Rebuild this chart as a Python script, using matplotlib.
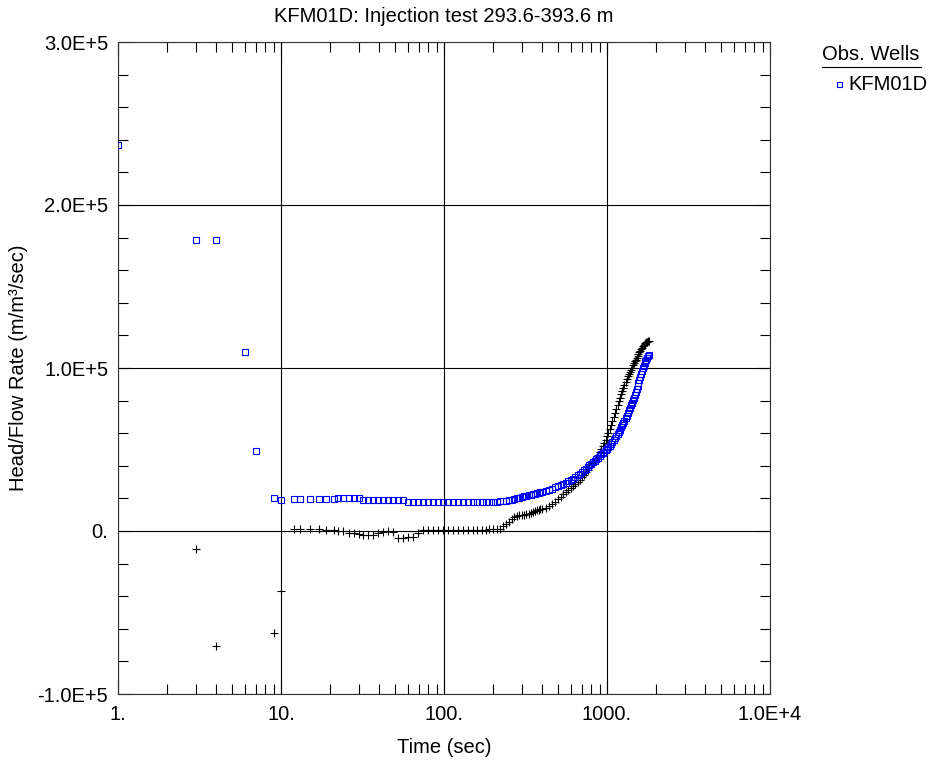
import matplotlib
matplotlib.use("Agg")
import matplotlib.pyplot as plt
from matplotlib.ticker import FixedLocator, FixedFormatter, LogLocator, NullFormatter
from matplotlib.lines import Line2D

plt.rcParams['font.family'] = ['Liberation Sans', 'DejaVu Sans']
FS = 14.5

# ---- data -------------------------------------------------------------
# Observation well KFM01D (blue squares)
t_obs = [1, 3, 4, 6, 7, 9, 10,
         12, 13, 15, 17, 19, 21, 22.5, 24, 26, 28, 30, 32, 34.3, 36.8, 39.5,
         42.4, 45.5, 48.9, 52.4, 56.3, 60.4, 64.8, 69.5, 74.6, 80, 86, 92, 99,
         106, 114, 122, 131, 141,
         150, 160, 170, 180, 190, 200, 210, 220, 230, 240, 250, 260, 270, 280,
         290, 300, 310, 320, 330, 340, 350, 360, 370, 380, 390, 400,
         420, 440, 460, 480, 500, 520, 540, 560, 580, 600, 620, 640, 660, 680,
         700, 720, 740, 760, 780, 800, 820, 840, 860, 880, 900, 920, 940, 960,
         980, 1000, 1020, 1040, 1060, 1080, 1100, 1120, 1140, 1160, 1180, 1200,
         1220, 1240, 1260, 1280, 1300, 1320, 1340, 1360, 1380, 1400, 1420, 1440,
         1460, 1480, 1500, 1520, 1540, 1560, 1580, 1600, 1620, 1640, 1660, 1680,
         1700, 1720, 1740, 1760, 1780, 1800]
h_obs = [237000, 178500, 178500, 110000, 49000, 20200, 19000,
         19600, 19600, 19600, 19600, 19600, 19600, 20400, 20400, 20400, 20400,
         20400, 19000, 19000, 19000, 19000, 19000, 19000, 19000, 19000, 19000,
         17800, 17800, 17800, 17800, 17800, 17800, 17800, 17800, 17800, 17800,
         17800, 17800, 17800,
         17800, 17800, 17800, 17800, 17900, 18000, 18000, 18100, 18300, 18600,
         18900, 19200, 19600, 20000, 20400, 20800, 21200, 21600, 22000, 22300,
         22700, 23000, 23300, 23600, 23900, 24200,
         24800, 25400, 26000, 26700, 27400, 28100, 28800, 29600, 30400, 31300,
         32200, 33200, 34200, 35200, 36300, 37300, 38300, 39300, 40300, 41300,
         42200, 43100, 44000, 45000, 46000, 47000, 47900, 48700, 49500, 50300,
         51300, 52400, 53500, 54700, 55900, 57100, 58300, 59600, 60900, 62200,
         63500, 64900, 66200, 67700, 69200, 70800, 72400, 74000, 75500, 77000,
         78600, 80200, 81900, 83500, 85200, 87000, 88800, 90600, 92500, 94400,
         96300, 98200, 99900, 101400, 102800, 104000, 105200, 106300, 107300,
         108000]

# Test section response (black crosses)
t_sec = [3, 4, 9, 10,
         12, 13, 15, 17, 19, 21, 22.5, 24, 26, 28, 30, 32, 34.3, 36.8, 39.5,
         42.4, 45.5, 48.9, 52.4, 56.3, 60.4, 64.8, 69.5, 74.6, 80, 86, 92, 99,
         106, 114, 122, 131, 141,
         150, 160, 170, 180, 190, 200, 210, 220, 230, 240, 250, 260, 270, 280,
         290, 300, 310, 320, 330, 340, 350, 360, 370, 380, 390, 400,
         420, 440, 460, 480, 500, 520, 540, 560, 580, 600, 620, 640, 660, 680,
         700, 720, 740, 760, 780, 800, 820, 840, 860, 880, 900, 920, 940, 960,
         980, 1000, 1020, 1040, 1060, 1080, 1100, 1120, 1140, 1160, 1180, 1200,
         1220, 1240, 1260, 1280, 1300, 1320, 1340, 1360, 1380, 1400, 1420, 1440,
         1460, 1480, 1500, 1520, 1540, 1560, 1580, 1600, 1620, 1640, 1660, 1680,
         1700, 1720, 1740, 1760, 1780, 1800]
h_sec = [-11000, -70500, -62500, -37000,
         1000, 1500, 1200, 1000, 800, 500, 300, 0, -1000, -1500, -2000, -2200,
         -2200, -2200, -1500, -500, 0, -800, -4000, -4500, -3500, -3500, -1500,
         500, 500, 500, 500, 600, 600, 700, 700, 800, 800,
         800, 900, 900, 900, 1000, 1000, 1100, 1500, 2800, 4300, 5800, 7200,
         8500, 9400, 9800, 10000, 10100, 10300, 10700, 11300, 11900, 12400,
         12800, 13100, 13400, 13700,
         14200, 15200, 16500, 18000, 19500, 21000, 22500, 23800, 25000, 26300,
         27600, 28900, 30200, 31500, 33000, 34500, 36000, 37500, 39000, 40500,
         42000, 43400, 44800, 46500, 48300, 50200, 52200, 54200, 56100, 58000,
         60400, 62800, 65200, 67600, 70000, 72400, 74800, 77200, 79500, 81700,
         83800, 85900, 87900, 89700, 91500, 93200, 94800, 96300, 97700, 99000,
         100300, 101600, 102800, 104000, 105200, 106400, 107500, 108600, 109600,
         110600, 111500, 112400, 113200, 114000, 114700, 115300, 115800, 116100,
         116300, 116500]

x_ticks = [1, 10, 100, 1000, 10000]
x_tick_labels = ["1.", "10.", "100.", "1000.", "1.0E+4"]
y_ticks = [-100000, 0, 100000, 200000, 300000]
y_tick_labels = ["-1.0E+5", "0.", "1.0E+5", "2.0E+5", "3.0E+5"]

# ---- figure -----------------------------------------------------------
fig = plt.figure(figsize=(9.29, 7.67), dpi=100)
ax = fig.add_axes([118 / 929, 1 - 694 / 767, (770 - 118) / 929, (694 - 42) / 767])

ax.plot(t_sec, h_sec, linestyle='none', marker='+', color='black',
        markersize=6, markeredgewidth=0.8, zorder=3)
ax.plot(t_obs, h_obs, linestyle='none', marker='s', markerfacecolor='none',
        markeredgecolor='#0000ff', markersize=3.8, markeredgewidth=0.8, zorder=4)

ax.set_xscale('log')
ax.set_xlim(1, 10000)
ax.set_ylim(-100000, 300000)

ax.xaxis.set_major_locator(FixedLocator(x_ticks))
ax.xaxis.set_major_formatter(FixedFormatter(x_tick_labels))
ax.xaxis.set_minor_locator(LogLocator(base=10, subs=range(2, 10), numticks=20))
ax.xaxis.set_minor_formatter(NullFormatter())
ax.yaxis.set_major_locator(FixedLocator(y_ticks))
ax.yaxis.set_major_formatter(FixedFormatter(y_tick_labels))
ax.yaxis.set_minor_locator(FixedLocator(range(-100000, 300001, 20000)))

ax.tick_params(which='both', direction='in', top=True, right=True,
               labelsize=FS, colors='black', width=0.8)
ax.tick_params(which='major', length=10)
ax.tick_params(which='minor', length=7)
ax.tick_params(axis='x', which='major', pad=8)
ax.tick_params(axis='y', which='major', pad=7)

ax.grid(True, which='major', color='black', linewidth=0.8)
for s in ax.spines.values():
    s.set_linewidth(0.8)
    s.set_color('#333333')

ax.set_title("KFM01D: Injection test 293.6-393.6 m", fontsize=FS, pad=14.5)
ax.set_xlabel("Time (sec)", fontsize=FS, labelpad=10)
ax.set_ylabel("Head/Flow Rate (m/m³/sec)", fontsize=FS, labelpad=6.5)

# legend block at the upper right
fig.text(871 / 929, 1 - 55 / 767, "Obs. Wells", ha='center', va='center', fontsize=FS)
fig.add_artist(Line2D([822 / 929, 921 / 929], [1 - 67 / 767, 1 - 67 / 767],
                      color='black', linewidth=0.8, transform=fig.transFigure))
fig.add_artist(Line2D([839 / 929], [1 - 84 / 767], marker='s', linestyle='none',
                      markerfacecolor='none', markeredgecolor='#0000ff',
                      markersize=3.6, markeredgewidth=0.8, transform=fig.transFigure))
fig.text(848 / 929, 1 - 84 / 767, "KFM01D", ha='left', va='center', fontsize=FS)

fig.savefig("out.png", dpi=100)
